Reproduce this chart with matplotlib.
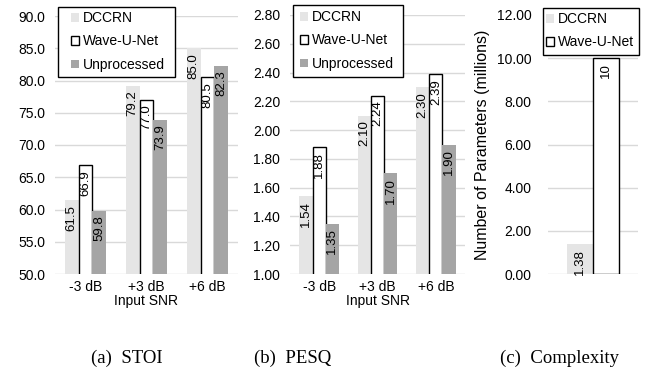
import matplotlib
matplotlib.use("Agg")
import matplotlib.pyplot as plt
from matplotlib.patches import Rectangle
import numpy as np

snr_labels = ["-3 dB", "+3 dB", "+6 dB"]
stoi_dccrn = [61.5, 79.2, 85.0]
stoi_wun = [66.9, 77.0, 80.5]
stoi_unproc = [59.8, 73.9, 82.3]
pesq_dccrn = [1.54, 2.10, 2.30]
pesq_wun = [1.88, 2.24, 2.39]
pesq_unproc = [1.35, 1.70, 1.90]
params_dccrn = [1.38]
params_wun = [10]
series_names = ["DCCRN", "Wave-U-Net", "Unprocessed"]

plt.rcParams['font.family'] = ['Liberation Sans', 'DejaVu Sans']
plt.rcParams['font.size'] = 10

fig = plt.figure(figsize=(6.49, 3.71), dpi=100)
H = 371.0
W = 649.0

def ax_at(x0, x1, ytop, ybot):
    return fig.add_axes([x0 / W, 1 - ybot / H, (x1 - x0) / W, (ybot - ytop) / H])

styles = [
    dict(color="#e5e5e5", edgecolor="none", linewidth=0),
    dict(color="white", edgecolor="black", linewidth=1.0),
    dict(color="#a5a5a5", edgecolor="none", linewidth=0),
]

def style_axes(ax, ylim, yticks, fmt, pad=7):
    ax.set_ylim(*ylim)
    ax.set_yticks(yticks)
    ax.set_yticklabels([fmt.format(v) for v in yticks])
    ax.grid(axis="y", color="#d9d9d9", linewidth=1.0)
    ax.set_axisbelow(True)
    for s in ax.spines.values():
        s.set_visible(False)
    ax.tick_params(axis="both", length=0, labelsize=10)
    ax.tick_params(axis="y", pad=pad)
    ax.tick_params(axis="x", pad=4)

def add_labels(ax, bars, vals, fmt):
    for b, v in zip(bars, vals):
        ax.annotate(fmt.format(v), (b.get_x() + b.get_width() / 2, b.get_height()),
                    xytext=(0, -3.5), textcoords="offset points",
                    rotation=90, ha="center", va="top", fontsize=9.5)

def legend(ax, box, hx, ytop):
    x0, y0, x1, y1 = box
    rect = Rectangle((x0 / W, 1 - y1 / H), (x1 - x0) / W, (y1 - y0) / H,
                     transform=fig.transFigure, facecolor="white",
                     edgecolor="black", linewidth=1.0, zorder=8, clip_on=False)
    ax.add_patch(rect)
    leg = ax.legend(loc="upper left", frameon=False, fontsize=10,
                    handlelength=0.6, handleheight=0.6, handletextpad=0.25,
                    borderpad=0.0, labelspacing=0.68, borderaxespad=0.0,
                    bbox_to_anchor=(hx / W, 1 - ytop / H),
                    bbox_transform=fig.transFigure)
    leg.set_zorder(10)
    return leg

w = 0.225
x = np.arange(3)

# Panel (a) STOI
ax1 = ax_at(55, 238, 16, 274)
data1 = [stoi_dccrn, stoi_wun, stoi_unproc]
for i, (d, st, nm) in enumerate(zip(data1, styles, series_names)):
    bars = ax1.bar(x + (i - 1) * w, d, w, label=nm, **st)
    add_labels(ax1, bars, d, "{:.1f}")
ax1.set_xlim(-0.5, 2.5)
style_axes(ax1, (50, 90), np.arange(50, 90.1, 5), "{:.1f}")
ax1.set_xticks(x)
ax1.set_xticklabels(snr_labels)
ax1.set_xlabel("Input SNR", labelpad=0, fontsize=10)
legend(ax1, (58, 7, 175, 77), 71, 11)

# Panel (b) PESQ
ax2 = ax_at(290, 465, 15, 274)
data2 = [pesq_dccrn, pesq_wun, pesq_unproc]
for i, (d, st, nm) in enumerate(zip(data2, styles, series_names)):
    bars = ax2.bar(x + (i - 1) * w, d, w, label=nm, **st)
    add_labels(ax2, bars, d, "{:.2f}")
ax2.set_xlim(-0.5, 2.5)
style_axes(ax2, (1.0, 2.8), np.arange(1.0, 2.81, 0.2), "{:.2f}")
ax2.set_xticks(x)
ax2.set_xticklabels(snr_labels)
ax2.set_xlabel("Input SNR", labelpad=0, fontsize=10)
legend(ax2, (293, 5, 403, 77), 300, 10)

# Panel (c) Complexity
ax3 = ax_at(548, 638, 15, 274)
w3 = 0.29
b1 = ax3.bar([-w3 / 2], params_dccrn, w3, label=series_names[0], **styles[0])
add_labels(ax3, b1, params_dccrn, "{:.2f}")
b2 = ax3.bar([w3 / 2], params_wun, w3, label=series_names[1], **styles[1])
add_labels(ax3, b2, params_wun, "{:d}")
ax3.set_xlim(-0.5, 0.5)
style_axes(ax3, (0, 12), np.arange(0, 12.1, 2), "{:.2f}", pad=12)
ax3.set_xticks([])
ax3.set_ylabel("Number of Parameters (millions)", fontsize=11.5, labelpad=5)
legend(ax3, (543, 8, 639, 55), 546, 12)

# Captions
cap_font = dict(family=["Liberation Serif", "DejaVu Serif"], fontsize=13.5, ha="center", va="center")
fig.text(127 / W, 1 - 358 / H, "(a)  STOI", **cap_font)
fig.text(293 / W, 1 - 358 / H, "(b)  PESQ", **cap_font)
fig.text(560 / W, 1 - 358 / H, "(c)  Complexity", **cap_font)

fig.savefig("out.png", dpi=100)
